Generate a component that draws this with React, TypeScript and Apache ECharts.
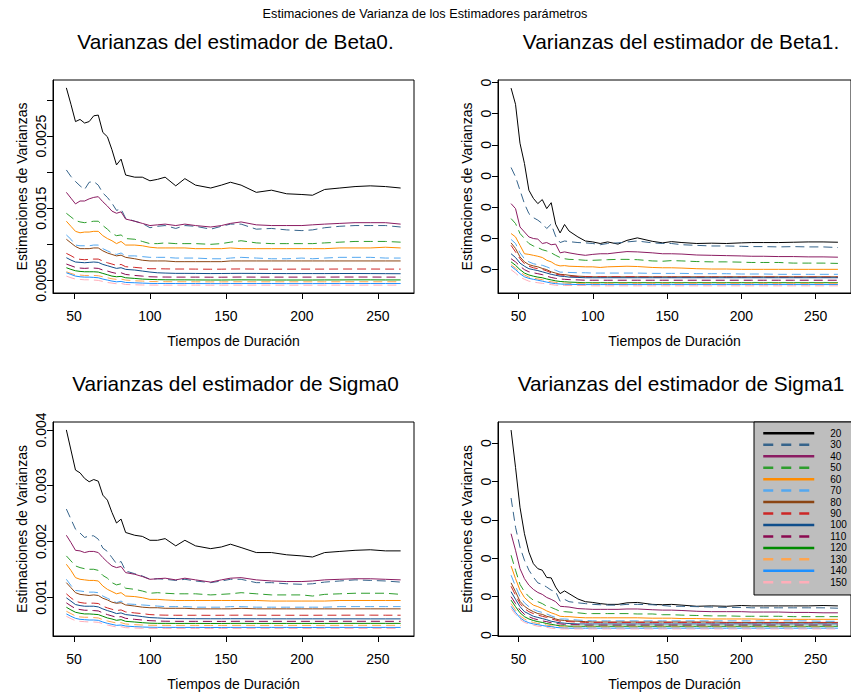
import React, { useEffect, useRef } from "react";
import * as echarts from "echarts";

const FONT = '"Liberation Sans", Arial, Helvetica, sans-serif';

// x grid (Tiempos de Duración)
const X = [45, 48, 51, 54, 57, 60, 63, 66, 69, 72, 75, 78, 81, 84,
  90, 95, 100, 105, 110, 117, 123, 130, 140, 147, 153, 160, 170, 180, 190, 200, 207, 215, 225, 235, 245, 255, 265];

const GROUPS = ["20", "30", "40", "50", "60", "70", "80", "90", "100", "110", "120", "130", "140", "150"];
const COLORS = ["#000000", "#36648B", "#8B1C62", "#2E9E2E", "#FF8C00", "#54A8F0", "#8B4513",
  "#CD2626", "#104E8B", "#8B0A50", "#008B00", "#FFA54F", "#1E90FF", "#FFAEB9"];
const DASHED = [false, true, false, true, false, true, false, true, false, true, false, true, false, true];

const X_TICKS = [50, 100, 150, 200, 250];

// ---------- Beta0 ----------
const b0_20 = [0.003167, 0.00294, 0.0027, 0.00273, 0.00268, 0.0027, 0.00278, 0.00279, 0.00255, 0.00249, 0.00231, 0.0021, 0.00218, 0.00196,
  0.00193, 0.00193, 0.00188, 0.0019, 0.00193, 0.00181, 0.00191, 0.00182, 0.00178, 0.00182, 0.00186, 0.00182, 0.00172, 0.00175, 0.0017, 0.00169, 0.00168, 0.00176, 0.00178, 0.0018, 0.00181, 0.0018, 0.00178];
const b0_30 = [0.00203, 0.00194, 0.00187, 0.00181, 0.00176, 0.00186, 0.00187, 0.00182, 0.00171, 0.00165, 0.00157, 0.00147, 0.00149, 0.00136,
  0.00132, 0.00129, 0.00123, 0.00125, 0.00126, 0.00122, 0.00126, 0.00125, 0.00121, 0.00125, 0.00128, 0.00128, 0.00121, 0.00122, 0.0012, 0.00119, 0.0012, 0.00123, 0.00125, 0.00126, 0.00126, 0.00126, 0.00124];
const b0_40 = [0.00172, 0.00164, 0.00156, 0.0016, 0.0016, 0.00163, 0.00165, 0.00166, 0.00159, 0.00153, 0.00146, 0.00143, 0.00145, 0.00135,
  0.00132, 0.00129, 0.00126, 0.00127, 0.00128, 0.00126, 0.00128, 0.00126, 0.00124, 0.00126, 0.00129, 0.00131, 0.00127, 0.00126, 0.00126, 0.00126, 0.00127, 0.00128, 0.00129, 0.0013, 0.0013, 0.0013, 0.00128];
const b0_50 = [0.00143, 0.00138, 0.00133, 0.00131, 0.0013, 0.00131, 0.00132, 0.00132, 0.00126, 0.00121, 0.00115, 0.00112, 0.00113, 0.00108,
  0.00107, 0.00104, 0.00101, 0.00101, 0.00102, 0.00101, 0.00101, 0.00101, 0.001, 0.00101, 0.00103, 0.00105, 0.00102, 0.00101, 0.00101, 0.00101, 0.00101, 0.00102, 0.00103, 0.00104, 0.00104, 0.00104, 0.00103];
const b0_60 = [0.00132, 0.00125, 0.00118, 0.00116, 0.00117, 0.00117, 0.00118, 0.00118, 0.00112, 0.00108, 0.00105, 0.00101, 0.00104, 0.00099,
  0.00099, 0.00098, 0.00096, 0.00095, 0.00095, 0.00095, 0.00095, 0.00094, 0.00094, 0.00094, 0.00095, 0.00094, 0.00094, 0.00094, 0.00094, 0.00094, 0.00094, 0.00094, 0.00095, 0.00095, 0.00095, 0.00096, 0.00095];
const b0_70 = [0.00113, 0.00107, 0.00099, 0.00098, 0.00098, 0.00098, 0.00099, 0.00099, 0.00094, 0.00091, 0.00088, 0.00086, 0.00088, 0.00084,
  0.00084, 0.00083, 0.00082, 0.00082, 0.00082, 0.00081, 0.00081, 0.00081, 0.0008, 0.0008, 0.00081, 0.00082, 0.00081, 0.0008, 0.0008, 0.00081, 0.0008, 0.00081, 0.00082, 0.00082, 0.00082, 0.00081, 0.00081];
const b0_80 = [0.00107, 0.00102, 0.00097, 0.00094, 0.00094, 0.00094, 0.00095, 0.00095, 0.00091, 0.00088, 0.00086, 0.00084, 0.00085, 0.00082,
  0.0008, 0.00078, 0.00077, 0.00077, 0.00077, 0.00076, 0.00076, 0.00076, 0.00076, 0.00076, 0.00077, 0.00077, 0.00077, 0.00077, 0.00077, 0.00077, 0.00077, 0.00077, 0.00077, 0.00077, 0.00077, 0.00077, 0.00077];
const b0_90 = [0.000875, 0.000843, 0.000806, 0.000792, 0.000787, 0.000792, 0.000796, 0.000796, 0.000769, 0.000745, 0.000727, 0.000708, 0.000722, 0.00069,
  0.000681, 0.000671, 0.000662, 0.000662, 0.00066, 0.000658, 0.000658, 0.000657, 0.000655, 0.000656, 0.000658, 0.000659, 0.000657, 0.000656, 0.000656, 0.000657, 0.000657, 0.000657, 0.000658, 0.000658, 0.000658, 0.000657, 0.000657];
const b0_100 = [0.000815, 0.000782, 0.000755, 0.00075, 0.000745, 0.00075, 0.000755, 0.00075, 0.000722, 0.000704, 0.000685, 0.000667, 0.000676, 0.000653,
  0.000644, 0.00063, 0.000616, 0.000606, 0.000602, 0.000598, 0.000598, 0.000597, 0.000595, 0.000596, 0.000597, 0.000598, 0.000597, 0.000596, 0.000595, 0.000595, 0.000595, 0.000595, 0.000596, 0.000596, 0.000595, 0.000594, 0.000593];
const b0_110 = [0.000727, 0.000704, 0.000681, 0.000671, 0.000667, 0.000671, 0.000671, 0.000667, 0.000644, 0.00063, 0.000611, 0.000597, 0.000606, 0.000583,
  0.000569, 0.00056, 0.000551, 0.000548, 0.000547, 0.000546, 0.000546, 0.000546, 0.000545, 0.000545, 0.000546, 0.000547, 0.000546, 0.000546, 0.000546, 0.000546, 0.000546, 0.000546, 0.000547, 0.000547, 0.000547, 0.000546, 0.000546];
const b0_120 = [0.000676, 0.000653, 0.000634, 0.000625, 0.00062, 0.00062, 0.00062, 0.000616, 0.000597, 0.000579, 0.00056, 0.000551, 0.000556, 0.000537,
  0.000528, 0.000519, 0.000514, 0.000511, 0.000509, 0.000508, 0.000508, 0.000507, 0.000506, 0.000506, 0.000507, 0.000508, 0.000507, 0.000506, 0.000506, 0.000506, 0.000506, 0.000507, 0.000507, 0.000508, 0.000508, 0.000507, 0.000507];
const b0_130 = [0.00062, 0.000597, 0.000579, 0.000574, 0.000569, 0.000569, 0.000569, 0.000565, 0.000551, 0.000537, 0.000523, 0.000514, 0.000519, 0.000505,
  0.000495, 0.000491, 0.000486, 0.000484, 0.000483, 0.000482, 0.000482, 0.000481, 0.00048, 0.00048, 0.000481, 0.000482, 0.000481, 0.000481, 0.000481, 0.000481, 0.000481, 0.000481, 0.000482, 0.000482, 0.000482, 0.000482, 0.000482];
const b0_140 = [0.000606, 0.000583, 0.00056, 0.000551, 0.000546, 0.000546, 0.000542, 0.000537, 0.000519, 0.000505, 0.000491, 0.000481, 0.000486, 0.000472,
  0.000468, 0.000463, 0.000459, 0.000458, 0.000458, 0.000457, 0.000457, 0.000457, 0.000456, 0.000456, 0.000457, 0.000457, 0.000457, 0.000457, 0.000456, 0.000456, 0.000456, 0.000457, 0.000457, 0.000457, 0.000457, 0.000457, 0.000457];
const b0_150 = [0.00056, 0.000537, 0.000519, 0.000514, 0.000509, 0.000509, 0.000505, 0.0005, 0.000486, 0.000472, 0.000463, 0.000454, 0.000458, 0.000444,
  0.00044, 0.000437, 0.000436, 0.000435, 0.000435, 0.000435, 0.000435, 0.000435, 0.000434, 0.000434, 0.000435, 0.000435, 0.000435, 0.000435, 0.000434, 0.000434, 0.000434, 0.000435, 0.000435, 0.000435, 0.000435, 0.000435, 0.000435];

// ---------- Beta1 (axis units; the axis prints every label as "0") ----------
const b1_20 = [5.82, 5.3, 4.05, 3.4, 2.54, 2.28, 2.11, 2.24, 1.95, 2.14, 1.45, 1.17, 1.44, 1.23,
  1.04, 0.91, 0.88, 0.83, 0.88, 0.81, 0.93, 1.01, 0.9, 0.85, 0.89, 0.86, 0.83, 0.84, 0.83, 0.85, 0.86, 0.86, 0.86, 0.87, 0.88, 0.88, 0.87];
const b1_30 = [3.27, 2.97, 2.54, 2.11, 1.79, 1.66, 1.58, 1.47, 1.31, 1.45, 1.06, 0.86, 0.91, 0.89,
  0.86, 0.85, 0.83, 0.79, 0.83, 0.85, 0.88, 0.91, 0.85, 0.83, 0.83, 0.79, 0.77, 0.75, 0.75, 0.74, 0.73, 0.73, 0.72, 0.73, 0.72, 0.72, 0.7];
const b1_40 = [2.11, 1.95, 1.36, 1.2, 1.04, 0.99, 0.97, 0.83, 0.86, 0.79, 0.81, 0.53, 0.56, 0.53,
  0.48, 0.45, 0.48, 0.5, 0.5, 0.54, 0.57, 0.56, 0.53, 0.5, 0.5, 0.49, 0.46, 0.45, 0.44, 0.43, 0.42, 0.42, 0.41, 0.41, 0.4, 0.4, 0.39];
const b1_50 = [1.63, 1.47, 1.15, 0.99, 0.83, 0.75, 0.7, 0.63, 0.59, 0.53, 0.45, 0.38, 0.34, 0.32,
  0.31, 0.29, 0.29, 0.3, 0.31, 0.32, 0.32, 0.31, 0.27, 0.26, 0.28, 0.27, 0.25, 0.24, 0.24, 0.23, 0.22, 0.22, 0.22, 0.2, 0.2, 0.2, 0.19];
const b1_60 = [1.15, 1.04, 0.77, 0.5, 0.48, 0.45, 0.42, 0.38, 0.29, 0.24, 0.15, 0.11, 0.12, 0.1,
  0.09, 0.08, 0.08, 0.06, 0.08, 0.09, 0.1, 0.09, 0.06, 0.05, 0.05, 0.04, 0.02, 0.01, 0.01, 0, 0, 0, 0, 0, 0, 0, 0];
const b1_70 = [0.96, 0.83, 0.53, 0.34, 0.24, 0.18, 0.15, 0.13, 0.08, 0.02, -0.03, -0.09, -0.09, -0.1,
  -0.11, -0.11, -0.12, -0.12, -0.12, -0.12, -0.12, -0.12, -0.13, -0.13, -0.13, -0.13, -0.14, -0.14, -0.14, -0.15, -0.15, -0.15, -0.16, -0.16, -0.16, -0.16, -0.16];
const b1_80 = [0.85, 0.67, 0.4, 0.24, 0.15, 0.11, 0.08, 0.03, -0.01, -0.08, -0.12, -0.16, -0.17, -0.19,
  -0.22, -0.23, -0.24, -0.24, -0.24, -0.24, -0.24, -0.24, -0.24, -0.24, -0.24, -0.24, -0.24, -0.24, -0.24, -0.24, -0.24, -0.24, -0.24, -0.24, -0.24, -0.24, -0.24];
const b1_90 = [0.77, 0.56, 0.34, 0.18, 0.1, 0.05, 0.02, 0, -0.05, -0.11, -0.15, -0.18, -0.19, -0.22,
  -0.23, -0.24, -0.24, -0.24, -0.24, -0.24, -0.24, -0.24, -0.25, -0.25, -0.25, -0.25, -0.25, -0.25, -0.25, -0.25, -0.25, -0.25, -0.25, -0.25, -0.25, -0.25, -0.25];
const b1_100 = [0.5, 0.38, 0.2, 0.1, 0.02, -0.01, -0.04, -0.08, -0.12, -0.16, -0.19, -0.22, -0.23, -0.25,
  -0.26, -0.27, -0.27, -0.27, -0.27, -0.27, -0.27, -0.27, -0.27, -0.27, -0.27, -0.27, -0.27, -0.27, -0.27, -0.27, -0.27, -0.27, -0.27, -0.27, -0.27, -0.27, -0.27];
const b1_110 = [0.34, 0.24, 0.1, -0.01, -0.08, -0.11, -0.14, -0.17, -0.22, -0.26, -0.29, -0.31, -0.32, -0.33,
  -0.34, -0.35, -0.35, -0.35, -0.35, -0.35, -0.35, -0.35, -0.35, -0.35, -0.35, -0.35, -0.35, -0.35, -0.35, -0.35, -0.35, -0.35, -0.35, -0.35, -0.35, -0.35, -0.35];
const b1_120 = [0.24, 0.13, -0.01, -0.12, -0.18, -0.22, -0.25, -0.27, -0.31, -0.34, -0.37, -0.39, -0.4, -0.41,
  -0.42, -0.43, -0.43, -0.43, -0.43, -0.43, -0.43, -0.43, -0.43, -0.43, -0.43, -0.43, -0.43, -0.43, -0.43, -0.43, -0.43, -0.43, -0.43, -0.43, -0.43, -0.43, -0.43];
const b1_130 = [0.15, 0.04, -0.09, -0.18, -0.25, -0.28, -0.31, -0.33, -0.37, -0.4, -0.42, -0.43, -0.44, -0.45,
  -0.45, -0.45, -0.45, -0.45, -0.45, -0.45, -0.45, -0.45, -0.45, -0.45, -0.45, -0.45, -0.45, -0.45, -0.45, -0.45, -0.45, -0.45, -0.45, -0.45, -0.45, -0.45, -0.45];
const b1_140 = [0.1, -0.01, -0.14, -0.24, -0.29, -0.32, -0.35, -0.38, -0.41, -0.44, -0.46, -0.47, -0.48, -0.48,
  -0.49, -0.49, -0.49, -0.49, -0.49, -0.49, -0.49, -0.49, -0.49, -0.49, -0.49, -0.49, -0.49, -0.49, -0.49, -0.49, -0.49, -0.49, -0.49, -0.49, -0.49, -0.49, -0.49];
const b1_150 = [-0.01, -0.12, -0.25, -0.32, -0.38, -0.41, -0.43, -0.45, -0.47, -0.49, -0.51, -0.52, -0.52, -0.52,
  -0.52, -0.52, -0.53, -0.53, -0.53, -0.53, -0.53, -0.53, -0.53, -0.53, -0.53, -0.53, -0.53, -0.53, -0.53, -0.53, -0.53, -0.53, -0.53, -0.53, -0.53, -0.53, -0.53];

// ---------- Sigma0 ----------
const s0_20 = [0.004, 0.00364, 0.00328, 0.00323, 0.00313, 0.00307, 0.00311, 0.00308, 0.00283, 0.00274, 0.00252, 0.00233, 0.0024, 0.00216,
  0.00211, 0.00209, 0.00202, 0.00202, 0.00205, 0.00192, 0.00202, 0.00192, 0.00187, 0.0019, 0.00195, 0.00189, 0.0018, 0.0018, 0.00176, 0.00174, 0.00172, 0.0018, 0.00182, 0.00184, 0.00185, 0.00183, 0.00183];
const s0_30 = [0.00258, 0.0024, 0.00222, 0.00215, 0.00207, 0.0021, 0.0021, 0.00204, 0.00188, 0.00182, 0.00171, 0.0016, 0.00164, 0.00147,
  0.00142, 0.00138, 0.00132, 0.00133, 0.00132, 0.0013, 0.00132, 0.00129, 0.00126, 0.00129, 0.00132, 0.00132, 0.00126, 0.00126, 0.00124, 0.00123, 0.00124, 0.00127, 0.00129, 0.00131, 0.0013, 0.00129, 0.00127];
const s0_40 = [0.00211, 0.00198, 0.00184, 0.00183, 0.0018, 0.00182, 0.00182, 0.0018, 0.00171, 0.00163, 0.00156, 0.00153, 0.00155, 0.00144,
  0.00141, 0.00137, 0.00132, 0.00133, 0.00134, 0.00131, 0.00134, 0.00131, 0.00127, 0.00131, 0.00134, 0.00135, 0.00131, 0.00129, 0.00128, 0.00128, 0.00129, 0.00131, 0.00132, 0.00133, 0.00133, 0.00132, 0.00131];
const s0_50 = [0.00174, 0.00165, 0.00156, 0.00153, 0.00151, 0.0015, 0.0015, 0.00148, 0.00139, 0.00134, 0.00126, 0.00122, 0.00124, 0.00116,
  0.00114, 0.00111, 0.00107, 0.00108, 0.00107, 0.00106, 0.00106, 0.00106, 0.00104, 0.00105, 0.00106, 0.00108, 0.00106, 0.00104, 0.00104, 0.00104, 0.00102, 0.00105, 0.00106, 0.00107, 0.00107, 0.00107, 0.00105];
const s0_60 = [0.00159, 0.00148, 0.00135, 0.00132, 0.00131, 0.0013, 0.0013, 0.00129, 0.0012, 0.00114, 0.0011, 0.00106, 0.00108, 0.00102,
  0.00101, 0.00099, 0.00096, 0.00096, 0.00095, 0.00094, 0.00094, 0.00094, 0.00094, 0.00094, 0.00094, 0.00094, 0.00094, 0.00093, 0.00093, 0.00093, 0.00093, 0.00093, 0.00094, 0.00094, 0.00094, 0.00094, 0.00094];
const s0_70 = [0.00132, 0.00121, 0.00112, 0.00111, 0.0011, 0.00109, 0.00109, 0.00108, 0.00102, 0.00098, 0.00094, 0.0009, 0.00093, 0.00088,
  0.00087, 0.00086, 0.00085, 0.00084, 0.00083, 0.00083, 0.00083, 0.00082, 0.00082, 0.00082, 0.00083, 0.00083, 0.00082, 0.00082, 0.00082, 0.00082, 0.00082, 0.00082, 0.00083, 0.00083, 0.00083, 0.00083, 0.00083];
const s0_80 = [0.00126, 0.00117, 0.00108, 0.00105, 0.00104, 0.00103, 0.00104, 0.00103, 0.00098, 0.00095, 0.00091, 0.00089, 0.0009, 0.00086,
  0.00084, 0.00082, 0.00081, 0.00081, 0.0008, 0.0008, 0.0008, 0.00079, 0.00079, 0.00079, 0.00079, 0.0008, 0.00079, 0.00079, 0.00079, 0.00079, 0.00079, 0.00079, 0.00079, 0.00079, 0.00079, 0.00079, 0.00079];
const s0_90 = [0.00106, 0.000988, 0.000928, 0.000904, 0.000892, 0.000892, 0.000892, 0.000886, 0.000837, 0.000807, 0.000783, 0.000759, 0.000771, 0.000735,
  0.000717, 0.000705, 0.000687, 0.00068, 0.000677, 0.000675, 0.000675, 0.000675, 0.000674, 0.000675, 0.000676, 0.000677, 0.000676, 0.000675, 0.000675, 0.000675, 0.000675, 0.000676, 0.000676, 0.000677, 0.000677, 0.000676, 0.000676];
const s0_100 = [0.000988, 0.000928, 0.000867, 0.000849, 0.000837, 0.000837, 0.000837, 0.000825, 0.000789, 0.000759, 0.000735, 0.000705, 0.000717, 0.000687,
  0.000669, 0.000651, 0.000633, 0.000627, 0.00062, 0.000616, 0.000614, 0.000613, 0.000612, 0.000612, 0.000613, 0.000613, 0.000612, 0.000611, 0.000611, 0.000611, 0.000611, 0.000611, 0.000611, 0.000611, 0.00061, 0.00061, 0.00061];
const s0_110 = [0.000898, 0.000843, 0.000795, 0.000777, 0.000765, 0.000765, 0.000759, 0.000753, 0.000717, 0.000687, 0.000663, 0.000639, 0.000651, 0.00062,
  0.000602, 0.00059, 0.000578, 0.000572, 0.000568, 0.000566, 0.000566, 0.000566, 0.000565, 0.000565, 0.000566, 0.000567, 0.000566, 0.000566, 0.000566, 0.000566, 0.000566, 0.000566, 0.000567, 0.000567, 0.000567, 0.000566, 0.000566];
const s0_120 = [0.000819, 0.000771, 0.000729, 0.000711, 0.000699, 0.000699, 0.000693, 0.000687, 0.000657, 0.000627, 0.000608, 0.000584, 0.000596, 0.000566,
  0.000554, 0.000542, 0.000533, 0.00053, 0.00053, 0.000529, 0.000529, 0.000529, 0.000528, 0.000528, 0.000529, 0.00053, 0.000529, 0.000529, 0.000529, 0.000529, 0.000529, 0.000529, 0.00053, 0.00053, 0.00053, 0.00053, 0.00053];
const s0_130 = [0.000747, 0.000705, 0.000663, 0.000645, 0.000639, 0.000639, 0.000633, 0.000627, 0.000596, 0.000572, 0.000554, 0.000536, 0.000542, 0.000518,
  0.000506, 0.0005, 0.000495, 0.000494, 0.000494, 0.000493, 0.000493, 0.000493, 0.000492, 0.000492, 0.000493, 0.000494, 0.000493, 0.000493, 0.000493, 0.000493, 0.000493, 0.000493, 0.000494, 0.000494, 0.000494, 0.000494, 0.000494];
const s0_140 = [0.000699, 0.000657, 0.00062, 0.000602, 0.000596, 0.00059, 0.00059, 0.000584, 0.000554, 0.00053, 0.000512, 0.000494, 0.0005, 0.000482,
  0.00047, 0.000464, 0.00046, 0.000458, 0.000458, 0.000457, 0.000457, 0.000457, 0.000456, 0.000456, 0.000457, 0.000457, 0.000457, 0.000457, 0.000457, 0.000456, 0.000456, 0.000457, 0.000457, 0.000457, 0.000457, 0.000457, 0.000457];
const s0_150 = [0.000657, 0.000614, 0.000578, 0.000566, 0.00056, 0.000554, 0.000554, 0.000548, 0.000524, 0.0005, 0.000482, 0.000464, 0.00047, 0.000452,
  0.000446, 0.000441, 0.00044, 0.00044, 0.00044, 0.000439, 0.000439, 0.000439, 0.000438, 0.000438, 0.000439, 0.000439, 0.000439, 0.000439, 0.000439, 0.000438, 0.000438, 0.000439, 0.000439, 0.000439, 0.000439, 0.000439, 0.000439];

// ---------- Sigma1 (axis units; the axis prints every label as "0") ----------
const s1_20 = [5.34, 4.37, 3.33, 2.64, 2.16, 1.86, 1.73, 1.69, 1.5, 1.49, 1.25, 1.08, 1.15, 1.08,
  0.94, 0.87, 0.85, 0.82, 0.8, 0.8, 0.84, 0.85, 0.8, 0.79, 0.8, 0.78, 0.75, 0.76, 0.75, 0.77, 0.76, 0.76, 0.76, 0.76, 0.76, 0.77, 0.76];
const s1_30 = [3.57, 2.81, 2.29, 1.95, 1.69, 1.51, 1.36, 1.32, 1.25, 1.17, 1.13, 0.88, 0.93, 0.87,
  0.84, 0.82, 0.8, 0.79, 0.78, 0.78, 0.8, 0.8, 0.79, 0.77, 0.75, 0.75, 0.74, 0.73, 0.72, 0.72, 0.71, 0.71, 0.71, 0.71, 0.71, 0.71, 0.7];
const s1_40 = [2.64, 2.21, 1.73, 1.47, 1.3, 1.19, 1.11, 1.06, 0.98, 0.93, 0.87, 0.75, 0.74, 0.73,
  0.69, 0.68, 0.67, 0.67, 0.67, 0.67, 0.68, 0.68, 0.66, 0.65, 0.65, 0.64, 0.62, 0.61, 0.61, 0.61, 0.6, 0.6, 0.6, 0.59, 0.59, 0.58, 0.58];
const s1_50 = [2.08, 1.69, 1.32, 1.13, 1, 0.91, 0.87, 0.82, 0.75, 0.72, 0.67, 0.62, 0.61, 0.6,
  0.58, 0.56, 0.56, 0.56, 0.56, 0.56, 0.56, 0.55, 0.55, 0.53, 0.53, 0.52, 0.51, 0.5, 0.5, 0.49, 0.49, 0.49, 0.49, 0.48, 0.48, 0.48, 0.48];
const s1_60 = [1.8, 1.47, 1.17, 0.98, 0.87, 0.78, 0.74, 0.69, 0.63, 0.58, 0.54, 0.49, 0.48, 0.48,
  0.46, 0.45, 0.45, 0.45, 0.45, 0.45, 0.45, 0.45, 0.44, 0.44, 0.44, 0.43, 0.43, 0.42, 0.42, 0.42, 0.42, 0.41, 0.41, 0.41, 0.41, 0.41, 0.41];
const s1_70 = [1.56, 1.27, 1, 0.84, 0.74, 0.67, 0.62, 0.59, 0.55, 0.5, 0.46, 0.42, 0.42, 0.41,
  0.39, 0.38, 0.37, 0.37, 0.37, 0.37, 0.37, 0.37, 0.37, 0.37, 0.37, 0.37, 0.37, 0.37, 0.37, 0.37, 0.37, 0.37, 0.37, 0.37, 0.37, 0.36, 0.36];
const s1_80 = [1.36, 1.13, 0.88, 0.75, 0.67, 0.61, 0.56, 0.54, 0.49, 0.46, 0.42, 0.39, 0.38, 0.37,
  0.36, 0.35, 0.34, 0.34, 0.34, 0.34, 0.34, 0.34, 0.34, 0.34, 0.34, 0.34, 0.34, 0.34, 0.33, 0.33, 0.33, 0.33, 0.33, 0.33, 0.33, 0.33, 0.33];
const s1_90 = [1.27, 1.04, 0.82, 0.69, 0.61, 0.56, 0.52, 0.49, 0.46, 0.42, 0.39, 0.36, 0.36, 0.35,
  0.34, 0.33, 0.33, 0.33, 0.33, 0.33, 0.33, 0.33, 0.33, 0.33, 0.33, 0.33, 0.33, 0.32, 0.32, 0.32, 0.32, 0.32, 0.32, 0.32, 0.32, 0.32, 0.32];
const s1_100 = [1.13, 0.93, 0.74, 0.61, 0.55, 0.49, 0.46, 0.43, 0.4, 0.36, 0.34, 0.32, 0.31, 0.3,
  0.29, 0.29, 0.29, 0.29, 0.29, 0.29, 0.29, 0.29, 0.29, 0.29, 0.29, 0.29, 0.29, 0.29, 0.29, 0.29, 0.29, 0.29, 0.29, 0.29, 0.29, 0.29, 0.29];
const s1_110 = [1, 0.82, 0.65, 0.54, 0.48, 0.43, 0.4, 0.37, 0.35, 0.32, 0.3, 0.29, 0.28, 0.27,
  0.27, 0.26, 0.26, 0.26, 0.26, 0.26, 0.26, 0.26, 0.26, 0.26, 0.26, 0.26, 0.26, 0.26, 0.26, 0.26, 0.26, 0.26, 0.26, 0.26, 0.26, 0.26, 0.26];
const s1_120 = [0.91, 0.74, 0.58, 0.48, 0.42, 0.38, 0.35, 0.33, 0.3, 0.28, 0.26, 0.24, 0.24, 0.23,
  0.23, 0.23, 0.23, 0.23, 0.23, 0.23, 0.23, 0.23, 0.23, 0.23, 0.23, 0.23, 0.23, 0.23, 0.23, 0.23, 0.23, 0.23, 0.23, 0.23, 0.23, 0.23, 0.23];
const s1_130 = [0.82, 0.65, 0.5, 0.42, 0.36, 0.33, 0.3, 0.29, 0.26, 0.24, 0.23, 0.22, 0.21, 0.21,
  0.21, 0.21, 0.21, 0.21, 0.21, 0.21, 0.21, 0.21, 0.21, 0.21, 0.21, 0.21, 0.21, 0.21, 0.21, 0.21, 0.21, 0.21, 0.21, 0.21, 0.21, 0.21, 0.21];
const s1_140 = [0.75, 0.59, 0.45, 0.37, 0.32, 0.29, 0.27, 0.25, 0.23, 0.22, 0.2, 0.19, 0.18, 0.18,
  0.18, 0.18, 0.18, 0.18, 0.18, 0.18, 0.18, 0.18, 0.18, 0.18, 0.18, 0.18, 0.18, 0.18, 0.18, 0.18, 0.18, 0.18, 0.18, 0.18, 0.18, 0.18, 0.18];
const s1_150 = [0.69, 0.54, 0.41, 0.33, 0.29, 0.26, 0.23, 0.22, 0.2, 0.18, 0.17, 0.16, 0.16, 0.16,
  0.16, 0.16, 0.16, 0.16, 0.16, 0.16, 0.16, 0.16, 0.16, 0.16, 0.16, 0.16, 0.16, 0.16, 0.16, 0.16, 0.16, 0.16, 0.16, 0.16, 0.16, 0.16, 0.16];

const BETA0 = [b0_20, b0_30, b0_40, b0_50, b0_60, b0_70, b0_80, b0_90, b0_100, b0_110, b0_120, b0_130, b0_140, b0_150];
const BETA1 = [b1_20, b1_30, b1_40, b1_50, b1_60, b1_70, b1_80, b1_90, b1_100, b1_110, b1_120, b1_130, b1_140, b1_150];
const SIGMA0 = [s0_20, s0_30, s0_40, s0_50, s0_60, s0_70, s0_80, s0_90, s0_100, s0_110, s0_120, s0_130, s0_140, s0_150];
const SIGMA1 = [s1_20, s1_30, s1_40, s1_50, s1_60, s1_70, s1_80, s1_90, s1_100, s1_110, s1_120, s1_130, s1_140, s1_150];

const Y_TICKS_B0 = [0.0005, 0.001, 0.0015, 0.002, 0.0025, 0.003];
const Y_LABELS_B0 = [0.0005, 0.0015, 0.0025];
const Y_TICKS_B1 = [0, 1, 2, 3, 4, 5, 6];
const Y_TICKS_S0 = [0.001, 0.002, 0.003, 0.004];
const Y_TICKS_S1 = [0, 1, 2, 3, 4, 5];

const MAIN_TITLE = "Estimaciones de Varianza de los Estimadores parámetros";
const X_NAME = "Tiempos de Duración";
const Y_NAME = "Estimaciones de Varianzas";

const PANELS = [
  { title: "Varianzas del estimador de Beta0.", data: BETA0, yMin: 0.000326, yMax: 0.003276, ticks: Y_TICKS_B0, labels: Y_LABELS_B0, fmt: (v: number) => v.toFixed(4) },
  { title: "Varianzas del estimador de Beta1.", data: BETA1, yMin: -0.76, yMax: 6.08, ticks: Y_TICKS_B1, labels: Y_TICKS_B1, fmt: (_v: number) => "0" },
  { title: "Varianzas del estimador de Sigma0", data: SIGMA0, yMin: 0.000303, yMax: 0.004142, ticks: Y_TICKS_S0, labels: Y_TICKS_S0, fmt: (v: number) => v.toFixed(3) },
  { title: "Varianzas del estimador de Sigma1", data: SIGMA1, yMin: -0.024, yMax: 5.55, ticks: Y_TICKS_S1, labels: Y_TICKS_S1, fmt: (_v: number) => "0" },
];

// layout (pixels)
const GRIDS = [
  { left: 53, top: 80, width: 361, height: 213 },
  { left: 498, top: 80, width: 362, height: 213 },
  { left: 53, top: 422, width: 361, height: 214 },
  { left: 498, top: 422, width: 362, height: 214 },
];

export default function App() {
  const ref = useRef<HTMLDivElement>(null);

  useEffect(() => {
    if (!ref.current) return;
    const chart = echarts.init(ref.current, null, { renderer: "svg" });

    const series: any[] = [];
    PANELS.forEach((p, pi) => {
      p.data.forEach((vals, si) => {
        series.push({
          type: "line",
          name: GROUPS[si],
          xAxisIndex: pi,
          yAxisIndex: pi,
          data: X.map((x, i) => [x, vals[i]]),
          symbol: "none",
          showSymbol: false,
          silent: true,
          lineStyle: { color: COLORS[si], width: 1, type: DASHED[si] ? [9, 5] : "solid" },
          itemStyle: { color: COLORS[si] },
        });
      });
    });

    const axisText = { fontFamily: FONT, fontSize: 14, color: "#000" };

    const graphic: any[] = [
      {
        type: "text", x: 425, y: 14,
        style: { text: MAIN_TITLE, fontFamily: FONT, fontSize: 12.7, fill: "#000", textAlign: "center", textVerticalAlign: "middle", align: "center", verticalAlign: "middle" },
      },
    ];
    PANELS.forEach((p, i) => {
      const g = GRIDS[i];
      graphic.push({
        type: "text", x: g.left + g.width / 2 + 2, y: g.top - 39,
        style: { text: p.title, fontFamily: FONT, fontSize: 20.8, fill: "#000", textAlign: "center", textVerticalAlign: "middle", align: "center", verticalAlign: "middle" },
      });
    });

    chart.setOption({
      animation: false,
      backgroundColor: "#fff",
      textStyle: { fontFamily: FONT },
      grid: GRIDS.map((g) => ({ ...g, show: true, borderColor: "#000", borderWidth: 1, backgroundColor: "transparent", containLabel: false })),
      xAxis: GRIDS.map((_g, i) => ({
        type: "value",
        gridIndex: i,
        min: 36.2,
        max: 273.8,
        axisLine: { show: true, onZero: false, lineStyle: { color: "#000", width: 1 } },
        axisTick: { show: true, length: 6, customValues: X_TICKS, lineStyle: { color: "#000", width: 1 } },
        axisLabel: { ...axisText, customValues: X_TICKS, margin: 16 },
        splitLine: { show: false },
        name: X_NAME,
        nameLocation: "middle",
        nameGap: 41,
        nameTextStyle: axisText,
      })),
      yAxis: PANELS.map((p, i) => ({
        type: "value",
        gridIndex: i,
        min: p.yMin,
        max: p.yMax,
        axisLine: { show: true, onZero: false, lineStyle: { color: "#000", width: 1 } },
        axisTick: { show: true, length: 6, customValues: p.ticks, lineStyle: { color: "#000", width: 1 } },
        axisLabel: { ...axisText, customValues: p.labels, rotate: 90, margin: 5, formatter: p.fmt },
        splitLine: { show: false },
        name: Y_NAME,
        nameLocation: "middle",
        nameGap: 24,
        nameTextStyle: axisText,
      })),
      legend: {
        data: GROUPS.map((name, i) => ({
          name,
          itemStyle: { opacity: 0 },
          lineStyle: { color: COLORS[i], width: 2.5, type: DASHED[i] ? [10, 8] : "solid" },
        })),
        orient: "vertical",
        left: 754,
        top: 422,
        itemWidth: 51,
        itemHeight: 10,
        itemGap: 1.46,
        padding: [6.3, 16, 7.7, 8],
        backgroundColor: "#BEBEBE",
        borderColor: "#000",
        borderWidth: 1,
        selectedMode: false,
        itemStyle: { opacity: 0 },
        lineStyle: { width: 2.5 },
        textStyle: { fontFamily: FONT, fontSize: 10, color: "#000", padding: [0, 0, 0, 11] },
      },
      graphic,
      series,
    });

    return () => chart.dispose();
  }, []);

  return (
    <div
      ref={ref}
      style={{ position: "fixed", left: 0, top: 0, width: 851, height: 696, background: "#fff" }}
    />
  );
}
